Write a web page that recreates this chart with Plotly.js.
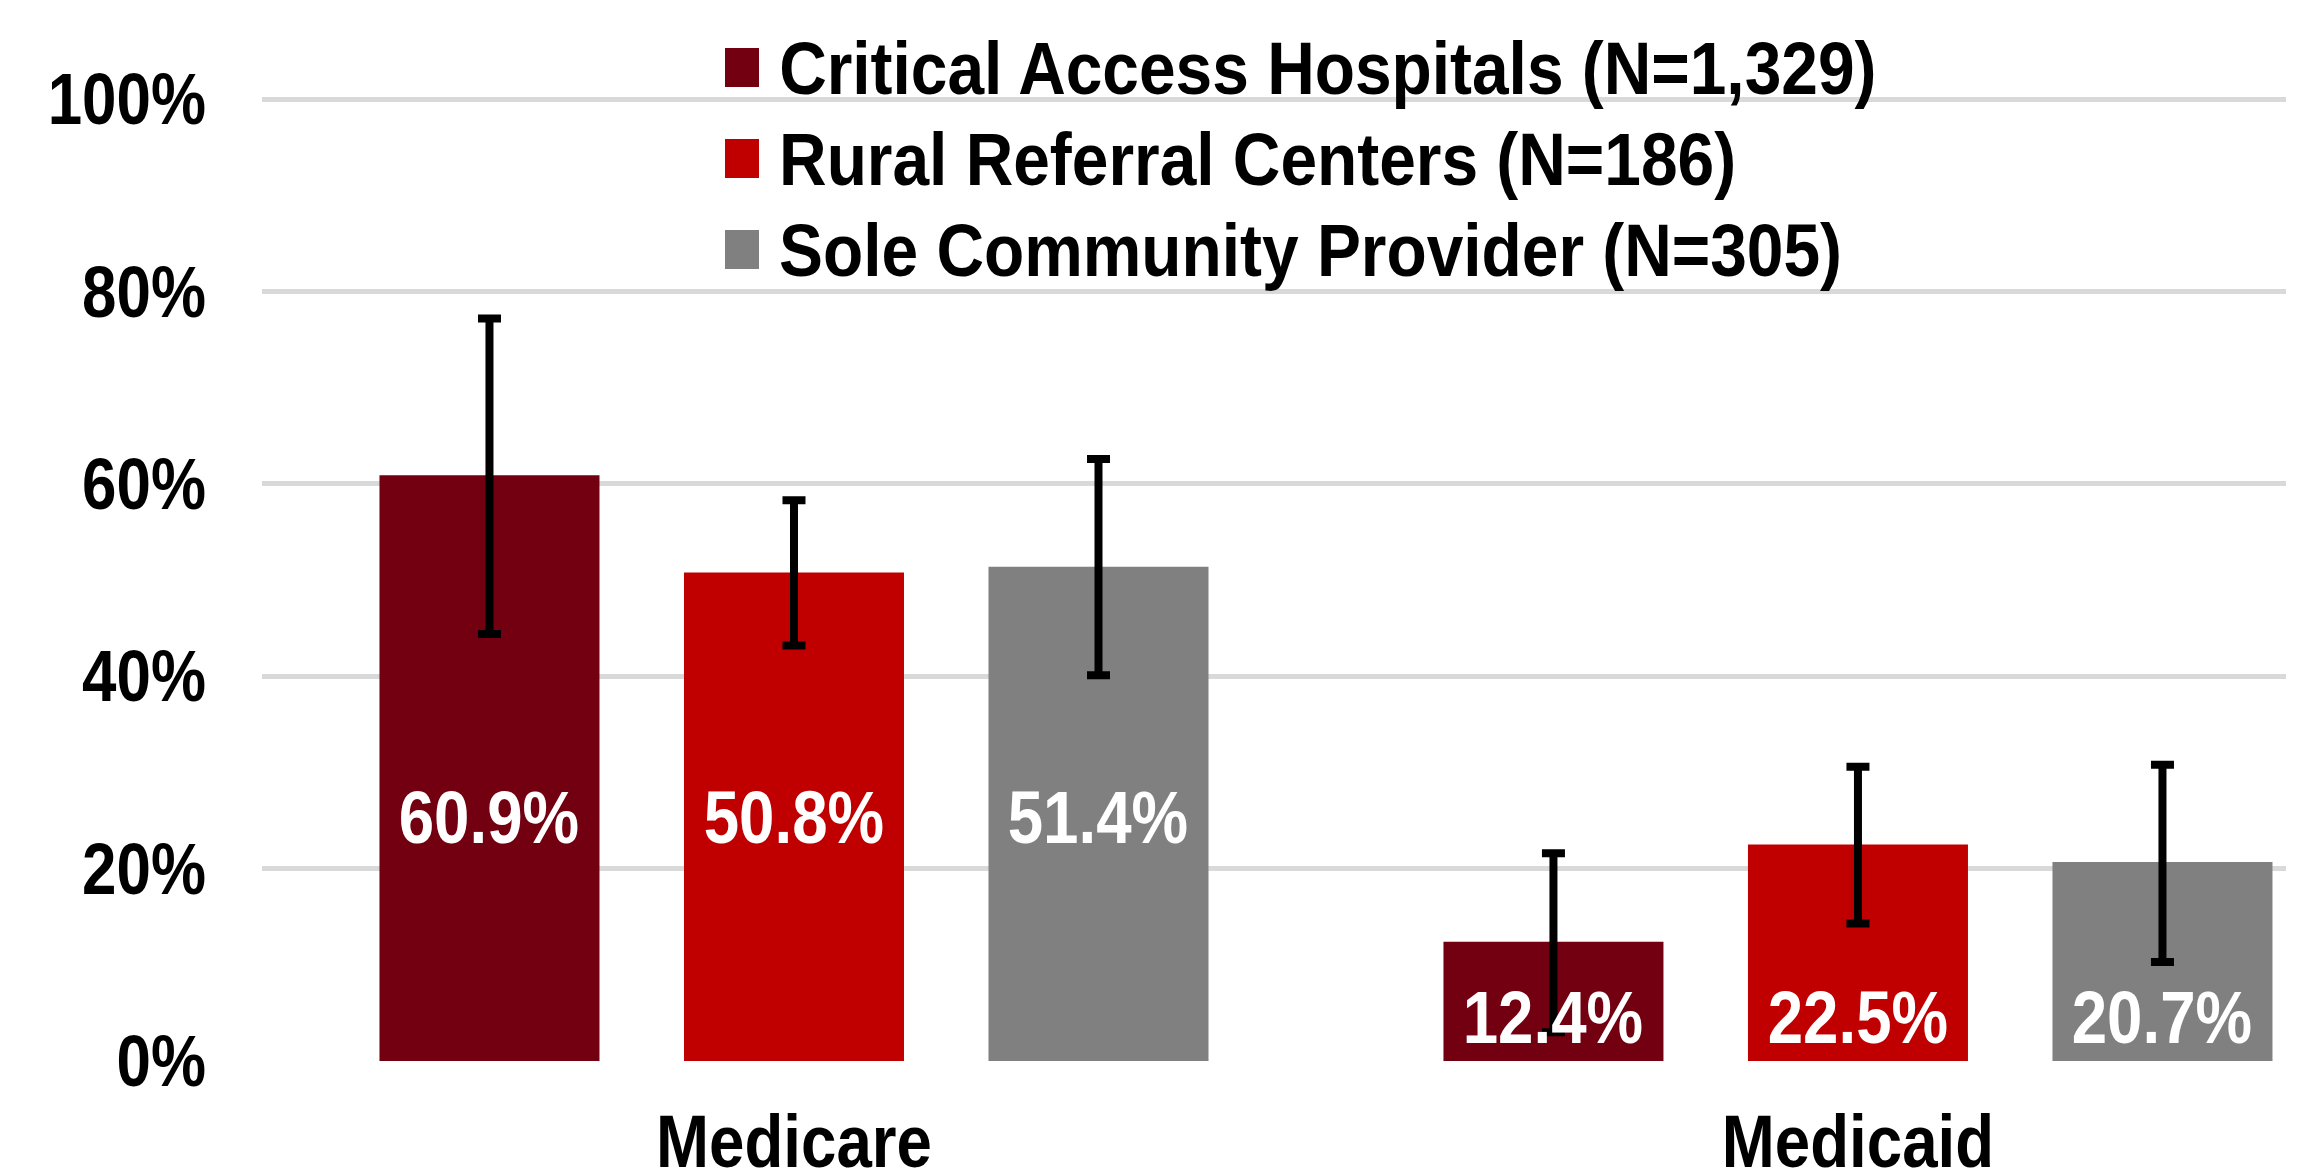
<!DOCTYPE html>
<html><head><meta charset="utf-8">
<script src="https://cdn.plot.ly/plotly-3.0.1.min.js"></script>
<style>html,body{margin:0;padding:0;background:#fff;overflow:hidden}</style>
</head><body><div id="chart" style="width:2300px;height:1175px"></div>
<script>
// ---- data ----
const categories = ['Medicare', 'Medicaid'];
const seriesNames = ['Critical Access Hospitals (N=1,329)', 'Rural Referral Centers (N=186)', 'Sole Community Provider (N=305)'];
const cahValues = [60.9, 12.4];
const rrcValues = [50.8, 22.5];
const scpValues = [51.4, 20.7];
const cahUpper = [77.2, 21.6];
const cahLower = [44.4, 3.0];
const rrcUpper = [58.3, 30.6];
const rrcLower = [43.2, 14.3];
const scpUpper = [62.6, 30.8];
const scpLower = [40.1, 10.3];
const yTickValues = [0, 20, 40, 60, 80, 100];
const yTickLabels = ['0%', '20%', '40%', '60%', '80%', '100%'];

// ---- styles / layout constants ----
const colors = ['#730010', '#C00000', '#808080'];
const W = 2300, H = 1175, ml = 262, mr = 14, mt = 3, mb = 114;
const plotW = W - ml - mr, plotH = H - mt - mb;
const xRange = [-0.5, 1.4023];
const bargap = 0.1414, bargroupgap = 0.2775;
const FONT = 'Liberation Sans, Arial, sans-serif';
const labelY = [25.3, 4.5]; // label centre height per category (axis units)
const NARROW = 0.86, LEGEND_NARROW = 0.89; // horizontal condensing of the lettering

const values = [cahValues, rrcValues, scpValues];
const uppers = [cahUpper, rrcUpper, scpUpper];
const lowers = [cahLower, rrcLower, scpLower];

const traces = values.map((v, i) => ({
  type: 'bar',
  name: seriesNames[i],
  x: categories,
  y: v,
  marker: {color: colors[i]},
  showlegend: false,
  hoverinfo: 'skip',
  error_y: {
    type: 'data', visible: true,
    array: v.map((d, j) => uppers[i][j] - d),
    arrayminus: v.map((d, j) => d - lowers[i][j]),
    color: '#000000', thickness: 8, width: 11.5
  }
}));

const pxPerUnit = plotW / (xRange[1] - xRange[0]);
const slotPx = pxPerUnit * (1 - bargap) / 3;
const px2x = px => (px - ml) / plotW;
const px2y = py => (H - mb - py) / plotH;

const annotations = [];
const shapes = [];
values.forEach((v, i) => {
  v.forEach((d, j) => {
    annotations.push({
      x: categories[j], xref: 'x', y: labelY[j], yref: 'y',
      xshift: (i - 1) * slotPx, showarrow: false,
      text: d.toFixed(1) + '%',
      font: {family: FONT, size: 74, color: '#ffffff', weight: 'bold'},
      xanchor: 'center', yanchor: 'middle'
    });
  });
  const yc = 67.5 + i * 91;
  shapes.push({
    type: 'rect', xref: 'paper', yref: 'paper',
    x0: px2x(725), x1: px2x(759), y0: px2y(yc + 19.5), y1: px2y(yc - 19.5),
    fillcolor: colors[i], line: {width: 0}
  });
  annotations.push({
    xref: 'paper', yref: 'paper', x: px2x(777), y: px2y(yc + 1),
    xanchor: 'left', yanchor: 'middle', showarrow: false,
    text: seriesNames[i],
    font: {family: FONT, size: 74, color: '#000000', weight: 'bold'}
  });
});

const layout = {
  width: W, height: H,
  margin: {l: ml, r: mr, t: mt, b: mb, pad: 0},
  paper_bgcolor: '#ffffff', plot_bgcolor: '#ffffff',
  barmode: 'group', bargap: bargap, bargroupgap: bargroupgap,
  showlegend: false,
  font: {family: FONT, color: '#000000', weight: 'bold'},
  xaxis: {
    type: 'category', range: xRange, showgrid: false, zeroline: false,
    showline: false, ticks: '', ticklabelstandoff: 31,
    tickfont: {family: FONT, size: 74, color: '#000000', weight: 'bold'}
  },
  yaxis: {
    range: [0, 110], tickvals: yTickValues, ticktext: yTickLabels,
    showgrid: true, gridcolor: '#d9d9d9', gridwidth: 5,
    zeroline: false, showline: false, ticks: '', ticklabelstandoff: 55,
    tickfont: {family: FONT, size: 72, color: '#000000', weight: 'bold'}
  },
  annotations: annotations,
  shapes: shapes
};

Plotly.newPlot('chart', traces, layout, {displayModeBar: false, staticPlot: true}).then(gd => {
  // condense the lettering horizontally, keeping each text's anchor edge in place
  gd.querySelectorAll('text').forEach(t => {
    const txt = t.textContent.trim();
    if (!txt) return;
    const bb = t.getBBox();
    let mode = 'center', s = NARROW;
    if (seriesNames.includes(txt)) { mode = 'left'; s = LEGEND_NARROW; }
    else if (t.closest('.ytick')) mode = 'right';
    let ax = mode === 'left' ? bb.x : mode === 'right' ? bb.x + bb.width : bb.x + bb.width / 2;
    const existing = t.getAttribute('transform') || '';
    const tl = t.transform.baseVal.consolidate();
    if (tl) ax = tl.matrix.a * ax + tl.matrix.e;
    t.setAttribute('transform', `translate(${ax},0) scale(${s},1) translate(${-ax},0) ${existing}`);
  });
});
</script>
</body></html>
